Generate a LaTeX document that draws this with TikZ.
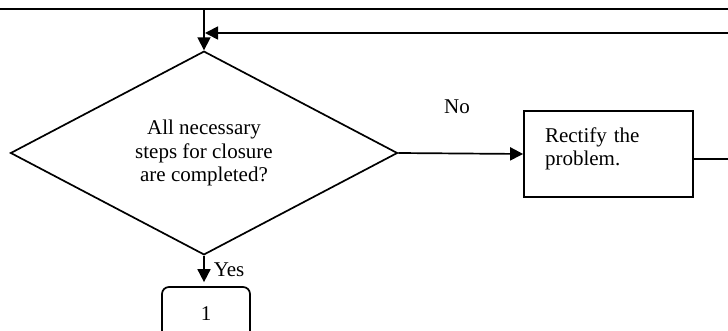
\documentclass[tikz,border=0pt]{standalone}
\usepackage{fontspec}
\setmainfont{Liberation Serif}
\usetikzlibrary{shapes.geometric,arrows.meta}
\begin{document}
\begin{tikzpicture}[x=1pt,y=-1pt, line width=1.7pt,
 flow/.style={-{Triangle[length=13pt,width=13pt]}, line width=1.7pt},
 txt/.style={font=\fontsize{21}{23.5}\selectfont},
 decision/.style={diamond, draw, minimum width=387pt, minimum height=193pt, inner sep=0pt, align=center, txt},
 process/.style={rectangle, draw, minimum width=169pt, minimum height=86pt, inner xsep=21pt, text width=127pt, align=left, txt},
 terminal/.style={rectangle, rounded corners=7pt, draw, minimum width=88pt, minimum height=54pt, txt}]
\useasboundingbox (0,0) rectangle (728,331);
\clip (0,0) rectangle (728,331);
\coordinate (topL) at (0,9.5);
\coordinate (topR) at (728,9.5);
\draw[line width=2pt] (topL) -- (topR);
\node[decision] (dec) at (204,153) {All necessary\\steps for closure\\are completed?};
\coordinate (join) at (204,9.5);
\draw[flow] (join) -- (dec.north);
\node[process] (fix) at (608.5,154) {Rectify the\\problem.\vspace{10pt}};
\draw[flow] (dec.east) -- (fix.west);
\node[txt, anchor=base, inner sep=0pt] (no) at (457,114) {No};
\coordinate (ret) at (205,33);
\draw[flow] ([yshift=-5pt]fix.east) -- ++(60,0) |- (ret);
\node[terminal] (one) at (206,314) {1};
\draw[flow, shorten >=4pt] (dec.south) -- (one.north -| dec.south);
\node[txt, anchor=base west, inner sep=0pt] (yes) at (213,276) {Yes};
\end{tikzpicture}
\end{document}
